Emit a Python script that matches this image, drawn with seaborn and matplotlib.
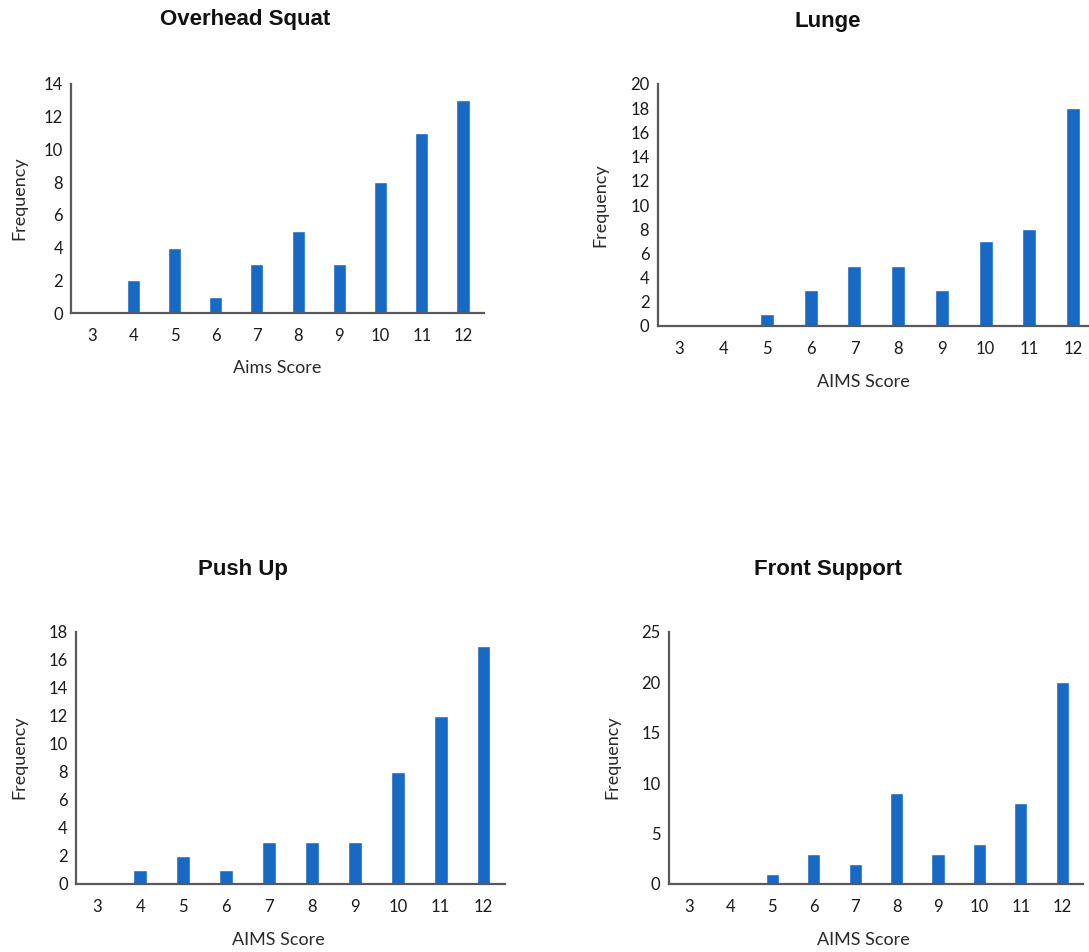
import matplotlib
import matplotlib.pyplot as plt
import pandas as pd
import seaborn as sns

matplotlib.use("Agg")

scores = ["3", "4", "5", "6", "7", "8", "9", "10", "11", "12"]

overhead_squat = [0, 2, 4, 1, 3, 5, 3, 8, 11, 13]
lunge = [0, 0, 1, 3, 5, 5, 3, 7, 8, 18]
push_up = [0, 1, 2, 1, 3, 3, 3, 8, 12, 17]
front_support = [0, 0, 1, 3, 2, 9, 3, 4, 8, 20]

titles = ["Overhead Squat", "Lunge", "Push Up", "Front Support"]
xlabels = ["Aims Score", "AIMS Score", "AIMS Score", "AIMS Score"]
ymax = [14, 20, 18, 25]
ystep = [2, 2, 2, 5]

BAR = "#1769C4"
SPINE = "#595959"
W, H = 1089, 952

sns.set_theme(style="white")
plt.rcParams["font.family"] = ["Lato", "DejaVu Sans"]

# pixel boxes: left, right, top, bottom of each axes
boxes = [
    (71.4, 483.6, 84, 313),
    (657.7, 1095, 84, 326),
    (76, 505, 632, 884),
    (668.7, 1083, 632, 884),
]
# title (x, y), xlabel (x, y), ylabel (x, y) in pixels
title_pos = [(245, 20), (828, 22), (243, 570), (828, 570)]
xlab_pos = [(277, 368), (863, 382), (278, 940), (863, 940)]
ylab_pos = [(19, 198), (600, 205), (19, 757), (612, 757)]

fig = plt.figure(figsize=(W / 100, H / 100), dpi=100)

series = [overhead_squat, lunge, push_up, front_support]
for i, vals in enumerate(series):
    l, r, t, b = boxes[i]
    ax = fig.add_axes([l / W, 1 - b / H, (r - l) / W, (b - t) / H])
    df = pd.DataFrame({"score": scores, "freq": vals})
    sns.barplot(data=df, x="score", y="freq", order=scores, color=BAR,
                saturation=1, width=0.32, ax=ax)
    ax.set_xlim(-0.5, 9.5)
    ax.set_ylim(0, ymax[i])
    ax.set_yticks(range(0, ymax[i] + 1, ystep[i]))
    ax.tick_params(axis="both", length=0, labelsize=12, colors="#1a1a1a")
    ax.tick_params(axis="x", pad=11)
    ax.tick_params(axis="y", pad=6)
    for s in ["top", "right"]:
        ax.spines[s].set_visible(False)
    for s in ["left", "bottom"]:
        ax.spines[s].set_color(SPINE)
        ax.spines[s].set_linewidth(1.6)
    ax.set_xlabel("")
    ax.set_ylabel("")

    tx, ty = title_pos[i]
    fig.text(tx / W, 1 - ty / H, titles[i], ha="center", va="center",
             fontsize=16, fontweight="bold", color="#111111",
             family=["Liberation Sans", "DejaVu Sans"])
    xx, xy = xlab_pos[i]
    fig.text(xx / W, 1 - xy / H, xlabels[i], ha="center", va="center",
             fontsize=13, color="#2a2a2a")
    yx, yy = ylab_pos[i]
    fig.text(yx / W, 1 - yy / H, "Frequency", ha="center", va="center",
             fontsize=13, rotation=90, color="#2a2a2a")

fig.savefig("out.png", dpi=100)
